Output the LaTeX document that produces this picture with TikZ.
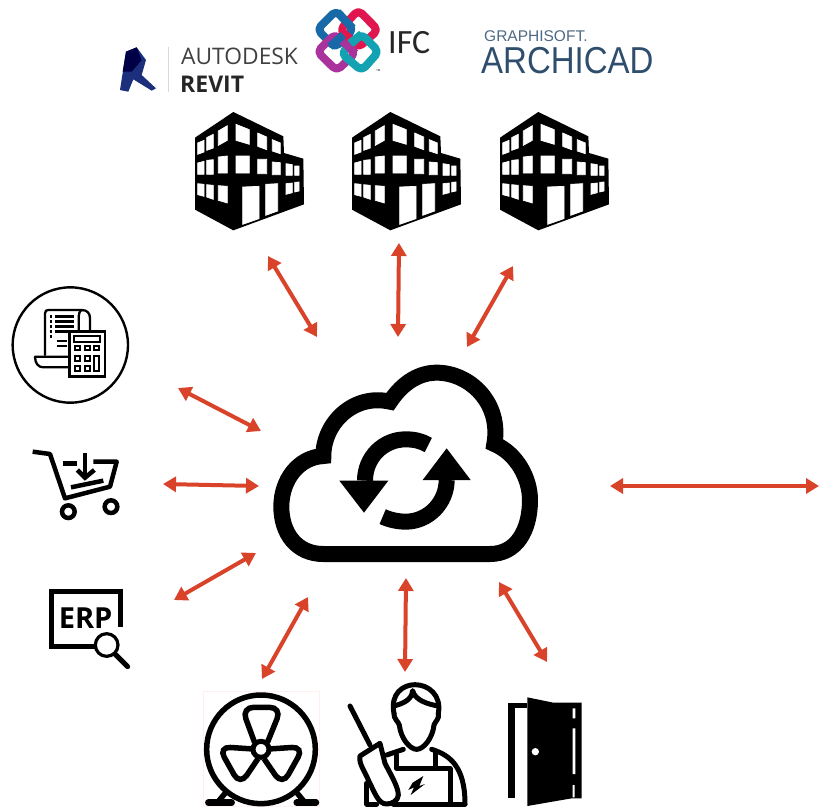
\documentclass[tikz,border=0pt]{standalone}
\usepackage{fontspec}
\setmainfont{Open Sans}
\newfontfamily\calfont{Carlito}
\newfontfamily\arialfont{Liberation Sans}
\usetikzlibrary{arrows.meta}
\definecolor{linkred}{HTML}{D8432A}
\definecolor{revitblue}{HTML}{1B2F7C}
\definecolor{archi}{HTML}{2F4E6E}
\definecolor{ifcblue}{HTML}{1769A8}
\definecolor{ifcred}{HTML}{E2164F}
\definecolor{ifcpurple}{HTML}{A9329C}
\definecolor{ifcteal}{HTML}{12A2B2}
\tikzset{
  link/.style={draw=linkred,line width=4pt,{Triangle[length=13pt,width=15pt]}-{Triangle[length=13pt,width=15pt]}},
  zoomed/.style={x=0.33333pt,y=-0.33333pt},
  logotext/.style={inner sep=0pt,anchor=base west},
  ifcloop/.style={line width=8pt,rounded corners=5pt,line join=round},
  icon/.style={draw=black,line join=round,line cap=round},
  win/.style={fill=white,draw=white,line width=0.7pt},
}
\newcommand{\bldg}[3]{%
\begin{scope}[shift={(#1,#2)},zoomed,shift={(-285,-335)}]
\coordinate (#3) at (400,690);
\fill[black] (400,335)--(550,408)--(552,458)--(610,475)--(612,612)--(400,690)--(285,628)--(285,412)--cycle;
\path[win] (293,428)--(312,420)--(312,455)--(293,462)--cycle (320,412)--(340,402)--(340,443)--(320,450)--cycle (355,392)--(382,376)--(382,420)--(355,435)--cycle;
\path[win] (408,372)--(448,388)--(448,432)--(408,420)--cycle (473,398)--(500,410)--(500,448)--(473,438)--cycle (517,418)--(541,428)--(541,460)--(517,452)--cycle;
\path[win] (293,488)--(312,483)--(312,522)--(293,522)--cycle (320,480)--(340,478)--(340,522)--(320,522)--cycle (355,470)--(382,467)--(382,518)--(355,518)--cycle;
\path[win] (408,467)--(448,467)--(448,518)--(408,518)--cycle (473,477)--(500,477)--(500,520)--(473,520)--cycle (517,485)--(541,487)--(541,523)--(517,523)--cycle (558,490)--(577,493)--(577,525)--(558,525)--cycle (584,497)--(597,497)--(597,525)--(584,525)--cycle;
\path[win] (293,550)--(312,552)--(312,588)--(293,583)--cycle (320,553)--(340,555)--(340,597)--(320,590)--cycle (355,556)--(382,558)--(382,608)--(355,600)--cycle;
\path[win] (428,560)--(477,558)--(477,655)--(428,672)--cycle (497,552)--(533,550)--(533,632)--(497,645)--cycle;
\path[win] (558,550)--(577,548)--(577,577)--(558,582)--cycle (584,546)--(597,545)--(597,572)--(584,575)--cycle;
\end{scope}}
\begin{document}
\begin{tikzpicture}[x=1pt,y=-1pt]
\useasboundingbox (0,0) rectangle (819,806);
% ---- logos
\begin{scope}[shift={(100,0)},zoomed]
\fill[revitblue] (60,270)--(78,155)--(110,142)--(138,180)--(125,225)--(168,265)--(155,272)--(100,238)--(85,275)--cycle;
\fill[black!60!blue!70!black] (78,155)--(110,142)--(125,180)--(95,215)--(68,215)--cycle;
\draw[black!15,line width=0.8pt] (205,140)--(205,276);
% IFC symbol
\draw[ifcblue,ifcloop] (708,32)--(652,88)--(705,143)--(760,88)--cycle;
\draw[ifcred,ifcloop] (775,30)--(834,90)--(775,143)--(720,90)--cycle;
\draw[ifcpurple,ifcloop] (705,102)--(652,155)--(710,212)--(766,160)--cycle;
\draw[ifcteal,ifcloop] (785,102)--(724,160)--(785,212)--(836,155)--cycle;
\draw[ifcblue,line width=8pt] (712,36)--(758,85);
\draw[ifcred,line width=8pt] (722,92)--(755,120);
\draw[ifcblue,line width=8pt] (690,140)--(730,105);
\draw[ifcpurple,line width=8pt] (735,130)--(766,160);
\draw[ifcteal,line width=8pt] (750,130)--(785,102);
\node[font=\tiny,scale=0.55,inner sep=0pt] (tm) at (835,213) {TM};
\end{scope}
\node[logotext,font=\fontsize{22.8}{23}\selectfont,text=black!75] (autodesk) at (181,64) {AUTODESK};
\node[logotext,font=\fontsize{23}{23}\selectfont\bfseries,text=black!85] (revit) at (180,92) {REVIT};
\node[logotext,font=\calfont\fontsize{34}{34}\selectfont,text=black!85] (ifc) at (388,53) {IFC};
\node[logotext,font=\arialfont\fontsize{15.5}{16}\selectfont,text=archi!85] (graphisoft) at (484,41) {GRAPHISOFT.};
\node[logotext,font=\arialfont\fontsize{37.5}{38}\selectfont,text=archi,xscale=0.88,transform shape] (archicad) at (481,73) {ARCHICAD};
% ---- buildings
\bldg{195}{112}{bA}
\bldg{352}{112}{bB}
\bldg{500}{112}{bC}
% ---- cloud
\begin{scope}[shift={(260,350)},zoomed]
\draw[line width=16pt,miter limit=10] (190,612) .. controls (110,612) and (64,550) .. (64,470) .. controls (64,390) and (115,322) .. (190,318) .. controls (190,220) and (280,130) .. (390,155) .. controls (430,95) and (480,68) .. (530,68) .. controls (630,68) and (725,160) .. (703,282) .. controls (770,310) and (810,385) .. (810,450) .. controls (810,540) and (770,612) .. (690,612) -- cycle;
\draw[line width=16pt] (505,285) .. controls (485,273) and (462,268) .. (437,268) .. controls (370,268) and (315,322) .. (315,392);
\fill (238,392)--(385,392)--(312,488)--cycle;
\draw[line width=16pt] (560,390) .. controls (560,458) and (505,515) .. (437,515) .. controls (415,515) and (390,510) .. (368,500);
\fill (488,390)--(632,390)--(560,295)--cycle;
\end{scope}
% ---- invoice icon
\begin{scope}[shift={(0,280)},zoomed]
\draw[line width=2.4pt] (211,195) circle[radius=173];
\draw[icon,line width=2.3pt] (135,225)--(135,100) .. controls (135,92) and (140,90) .. (145,90) -- (245,90) .. controls (262,90) and (270,100) .. (270,115) -- (270,155);
\draw[icon,line width=2.3pt] (245,90) .. controls (238,92) and (236,105) .. (236,115) -- (236,155);
\draw[icon,line width=2.3pt] (105,230)--(208,230) (105,230) .. controls (105,250) and (115,262) .. (130,262) -- (208,262);
\draw[line width=2.4pt] (165,110)--(222,110) (165,125)--(222,125) (165,140)--(222,140) (165,155)--(205,155) (170,183)--(200,183) (170,198)--(200,198);
\draw[line width=2.4pt] (150,110)--(157,110) (150,125)--(157,125) (150,140)--(157,140) (150,155)--(157,155) (150,170)--(157,170);
\fill[white] (208,155) rectangle (315,290);
\draw[line width=2.8pt] (208,155) rectangle (315,290);
\draw[line width=1.8pt] (222,168) rectangle (300,185);
\foreach \kx in {233,262,290}{\draw[line width=2.2pt] (\kx-8,198) rectangle (\kx+8,210);}
\foreach \kx in {233,262}{\draw[line width=2.2pt] (\kx-8,228) rectangle (\kx+8,242);\draw[line width=2.2pt] (\kx-8,258) rectangle (\kx+8,272);}
\draw[line width=2.2pt] (282,228) rectangle (298,272);
% ---- cart
\draw[icon,line width=4.5pt,line cap=butt] (98,515)--(150,522)--(195,655)--(330,620)--(350,545)--(280,545);
\draw[icon,line width=4.5pt,line cap=butt] (190,550)--(232,550);
\draw[icon,line width=4.5pt,line cap=butt] (255,520)--(255,590);
\draw[icon,line width=4.5pt,line cap=butt,line join=miter] (232,570)--(255,593)--(283,570);
\draw[icon,line width=4.5pt,line cap=butt] (213,622)--(310,602);
\draw[line width=4.5pt] (205,695) circle[radius=19] (333,680) circle[radius=19];
% ---- ERP
\draw[line width=5pt,line join=miter] (285,1098)--(155,1098)--(155,935)--(362,935)--(362,1040);
\node[inner sep=0pt,anchor=base west,font=\bfseries\fontsize{29}{29}\selectfont] (erp) at (176,1045) {ERP};
\draw[line width=3.2pt] (320,1095) circle[radius=34];
\draw[line width=5pt,line cap=round] (345,1122)--(383,1160);
\end{scope}
% ---- bottom icons
\begin{scope}[shift={(190,680)},zoomed]
\draw[red!6!white,line width=0.6pt] (40,35) rectangle (388,378);
% fan
\draw[line width=5.5pt] (213,208) circle[radius=163];
\draw[line width=5pt] (213,208) circle[radius=24];
\draw[line width=5.5pt,rounded corners=12pt] (194,188)--(155,82)--(275,82)--(232,188);
\draw[line width=5.5pt,rounded corners=12pt] (190,207)--(85,200)--(150,316)--(204,236);
\draw[line width=5.5pt,rounded corners=12pt] (236,207)--(342,200)--(277,316)--(222,236);
\draw[line width=5.5pt,line cap=round] (105,340)--(82,368) (322,340)--(345,368);
\draw[line width=6.5pt,line cap=round] (55,368)--(125,368) (320,368)--(378,368);
% worker
\draw[icon,line width=5pt] (612,100) .. controls (600,40) and (640,14) .. (675,14) .. controls (715,14) and (755,45) .. (745,100);
\draw[icon,line width=5pt] (612,78) .. controls (640,70) and (665,60) .. (668,32) .. controls (675,60) and (710,72) .. (745,78);
\draw[icon,line width=5pt] (612,100) .. controls (610,115) and (625,125) .. (628,135) .. controls (632,175) and (660,208) .. (680,208) .. controls (700,208) and (728,175) .. (732,135) .. controls (735,125) and (750,115) .. (745,100);
\draw[icon,line width=5pt] (480,78)--(540,195);
\draw[icon,line width=5pt] (510,228)--(570,190)--(585,250) .. controls (600,280) and (625,320) .. (625,345) .. controls (625,362) and (605,372) .. (590,372) .. controls (565,372) and (555,340) .. (535,300) .. controls (525,275) and (505,250) .. (510,228)--cycle;
\draw[icon,line width=5pt] (590,225)--(640,208) (725,208) .. controls (780,225) and (825,260) .. (825,372);
\draw[icon,line width=5pt] (620,225)--(620,265)--(780,265)--(780,372) (735,212)--(735,265) (530,310)--(530,372)--(560,372) (610,372)--(825,372);
\fill (668,308)--(700,288)--(688,318)--(705,312)--(662,345)--(672,322)--(655,330)--cycle;
% door
\fill (955,68) rectangle (1012,85);
\fill (955,68) rectangle (975,355);
\fill (1012,52)--(1090,68)--(1175,68)--(1175,355)--(1145,355)--(1012,378)--cycle;
\fill[white] (1148,85) rectangle (1156,115) (1148,145) rectangle (1156,282) (1148,315) rectangle (1154,352);
\fill[white] (1036,215) circle[radius=11];
\end{scope}
% ---- named link ends
\coordinate (bAs) at (268,256); \coordinate (cNW) at (317,337);
\coordinate (bBs) at (399,243); \coordinate (cN) at (398,337);
\coordinate (bCs) at (513,266); \coordinate (cNE) at (467,347);
\coordinate (invE) at (178,388); \coordinate (cWN) at (261,431);
\coordinate (cartE) at (163,484); \coordinate (cW) at (259,486);
\coordinate (erpE) at (174,600); \coordinate (cWS) at (256,553);
\coordinate (cSW) at (308,597); \coordinate (fanN) at (262,679);
\coordinate (cS) at (406,578); \coordinate (workerN) at (405,672);
\coordinate (cSE) at (499,582); \coordinate (doorN) at (547,662);
\coordinate (cE) at (610,486); \coordinate (rightEnd) at (819,486);
\foreach \a/\b in {bAs/cNW,bBs/cN,bCs/cNE,invE/cWN,cartE/cW,erpE/cWS,cSW/fanN,cS/workerN,cSE/doorN,cE/rightEnd}
  \draw[link] (\a)--(\b);
\end{tikzpicture}
\end{document}
